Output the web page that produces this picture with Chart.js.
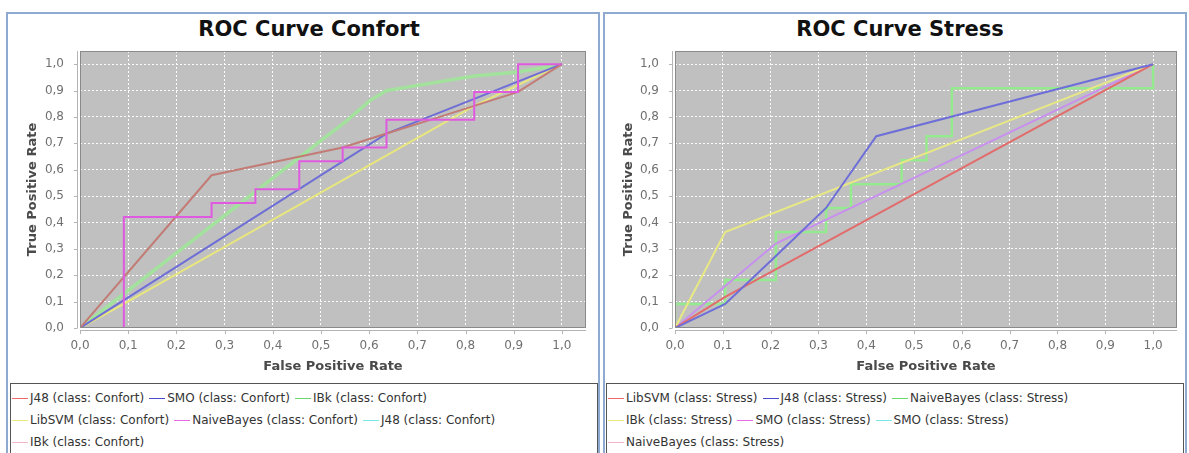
<!DOCTYPE html>
<html><head><meta charset="utf-8">
<script src="https://cdn.jsdelivr.net/npm/chart.js@4.4.1/dist/chart.umd.min.js"></script>
<style>
html,body{margin:0;padding:0;background:#fff;}
body{width:1189px;height:453px;position:relative;overflow:hidden;font-family:"DejaVu Sans",sans-serif;}
.panel{position:absolute;top:12px;height:445px;border:2px solid #8eaad0;box-sizing:border-box;background:#fff;}
#p1{left:6px;width:594px;}
#p2{left:603px;width:584px;}
.cv{position:absolute;top:15px;height:365px;}
.ttl{position:absolute;top:17px;width:400px;height:25px;line-height:25px;text-align:center;font-weight:bold;font-size:21px;color:#111;white-space:nowrap;}
.legend{position:absolute;top:383px;height:72px;border:1px solid #555;background:#fff;box-sizing:border-box;font-size:12px;color:#333;padding:3px 0 0 1px;}
.row{height:22px;display:flex;align-items:center;white-space:nowrap;}
.item{display:flex;align-items:center;margin-right:5px;}
.sw{width:16px;height:0;border-top:1px solid;margin-right:2px;}
</style></head>
<body>
<div class="panel" id="p1"></div>
<div class="panel" id="p2"></div>
<div class="ttl" id="t1" style="left:109px;"></div>
<div class="ttl" id="t2" style="left:700px;"></div>
<div class="cv" style="left:10px;width:588px;"><canvas id="c1" width="588" height="365"></canvas></div>
<div class="cv" style="left:606px;width:578px;"><canvas id="c2" width="578" height="365"></canvas></div>
<div class="legend" id="l1" style="left:10px;width:588px;"></div>
<div class="legend" id="l2" style="left:606px;width:578px;"></div>
<script>
// ---------- data ----------
const tickValues = [0, 0.1, 0.2, 0.3, 0.4, 0.5, 0.6, 0.7, 0.8, 0.9, 1.0];
const xTitle = 'False Positive Rate';
const yTitle = 'True Positive Rate';

// Confort
const confortTitle = 'ROC Curve Confort';
const confortJ48Fpr = [0, 0.273, 0.545, 0.636, 0.727, 0.818, 0.909, 1];
const confortJ48Tpr = [0, 0.579, 0.684, 0.737, 0.789, 0.842, 0.895, 1];
const confortSMOFpr = [0, 0.636, 1];
const confortSMOTpr = [0, 0.737, 1];
const confortIBkFpr = [0, 0.5, 0.55, 0.6, 0.636, 0.818, 0.909, 1];
const confortIBkTpr = [0, 0.71, 0.78, 0.86, 0.9, 0.955, 0.97, 1];
const confortLibSVMFpr = [0, 0.091, 0.818, 1];
const confortLibSVMTpr = [0, 0.091, 0.842, 1];
const confortNBFpr = [0, 0.091, 0.091, 0.273, 0.273, 0.364, 0.364, 0.455, 0.455, 0.545, 0.545, 0.636, 0.636, 0.818, 0.818, 0.909, 0.909, 1];
const confortNBTpr = [0, 0, 0.421, 0.421, 0.474, 0.474, 0.526, 0.526, 0.632, 0.632, 0.684, 0.684, 0.789, 0.789, 0.895, 0.895, 1, 1];

// Stress
const stressTitle = 'ROC Curve Stress';
const stressLibSVMFpr = [0, 0.105, 1];
const stressLibSVMTpr = [0, 0.118, 1];
const stressJ48Fpr = [0, 0.105, 0.211, 0.316, 0.421, 1];
const stressJ48Tpr = [0, 0.091, 0.273, 0.455, 0.727, 1];
const stressNBFpr = [0, 0, 0.105, 0.105, 0.211, 0.211, 0.316, 0.316, 0.368, 0.368, 0.474, 0.474, 0.526, 0.526, 0.579, 0.579, 1, 1];
const stressNBTpr = [0, 0.091, 0.091, 0.182, 0.182, 0.364, 0.364, 0.455, 0.455, 0.545, 0.545, 0.636, 0.636, 0.727, 0.727, 0.909, 0.909, 1];
const stressIBkFpr = [0, 0.105, 1];
const stressIBkTpr = [0, 0.364, 1];
const stressSMOFpr = [0, 0.211, 1];
const stressSMOTpr = [0, 0.32, 1];

// ---------- styles ----------
const legendColors = ['#ee6a6a', '#4a4acc', '#6ad86a', '#eaea7a', '#e66ae6', '#7ae6e6', '#f2b6c6'];

const confortSeries = [
  {label: 'J48 (class: Confort)', fpr: confortJ48Fpr, tpr: confortJ48Tpr, legend: legendColors[0], line: '#c67a74', width: 2, order: 1},
  {label: 'SMO (class: Confort)', fpr: confortSMOFpr, tpr: confortSMOTpr, legend: legendColors[1], line: '#6e6ed6', width: 2, order: 1},
  {label: 'IBk (class: Confort)', fpr: confortIBkFpr, tpr: confortIBkTpr, legend: legendColors[2], line: '#a2e29c', width: 3.5, order: 1},
  {label: 'LibSVM (class: Confort)', fpr: confortLibSVMFpr, tpr: confortLibSVMTpr, legend: legendColors[3], line: '#e8e67c', width: 2, order: 1},
  {label: 'NaiveBayes (class: Confort)', fpr: confortNBFpr, tpr: confortNBTpr, legend: legendColors[4], line: '#e05ae0', width: 2, order: 0},
  {label: 'J48 (class: Confort)', fpr: confortJ48Fpr, tpr: confortJ48Tpr, legend: legendColors[5], line: legendColors[5], width: 1.5, order: 5},
  {label: 'IBk (class: Confort)', fpr: confortIBkFpr, tpr: confortIBkTpr, legend: legendColors[6], line: legendColors[6], width: 2, order: 5}
];
const stressSeries = [
  {label: 'LibSVM (class: Stress)', fpr: stressLibSVMFpr, tpr: stressLibSVMTpr, legend: legendColors[0], line: '#e26c6c', width: 2, order: 1},
  {label: 'J48 (class: Stress)', fpr: stressJ48Fpr, tpr: stressJ48Tpr, legend: legendColors[1], line: '#6e6ed8', width: 2, order: 0},
  {label: 'NaiveBayes (class: Stress)', fpr: stressNBFpr, tpr: stressNBTpr, legend: legendColors[2], line: '#94ea8e', width: 2.5, order: 2},
  {label: 'IBk (class: Stress)', fpr: stressIBkFpr, tpr: stressIBkTpr, legend: legendColors[3], line: '#e8e884', width: 2, order: 1},
  {label: 'SMO (class: Stress)', fpr: stressSMOFpr, tpr: stressSMOTpr, legend: legendColors[4], line: '#cc8eec', width: 2, order: 1},
  {label: 'SMO (class: Stress)', fpr: stressSMOFpr, tpr: stressSMOTpr, legend: legendColors[5], line: legendColors[5], width: 1.5, order: 5},
  {label: 'NaiveBayes (class: Stress)', fpr: stressNBFpr, tpr: stressNBTpr, legend: legendColors[6], line: legendColors[6], width: 2, order: 5}
];

const fmt = v => v.toFixed(1).replace('.', ',');

const plotFrame = {
  id: 'plotFrame',
  beforeDraw(chart) {
    const {ctx, chartArea: a} = chart;
    ctx.save();
    ctx.fillStyle = '#c0c0c0';
    ctx.fillRect(a.left, a.top, a.width, a.height);
    ctx.restore();
  },
  afterDraw(chart) {
    const {ctx, chartArea: a, scales} = chart;
    ctx.save();
    ctx.strokeStyle = '#8a8a8a';
    ctx.lineWidth = 1;
    ctx.strokeRect(a.left + 0.5, a.top + 0.5, a.width - 1, a.height - 1);
    ctx.strokeStyle = '#b4b4b4';
    ctx.beginPath();
    ctx.moveTo(a.left - 2.5, a.top); ctx.lineTo(a.left - 2.5, a.bottom);
    ctx.moveTo(a.left, a.bottom + 2.5); ctx.lineTo(a.right, a.bottom + 2.5);
    scales.y.ticks.forEach(t => {
      const p = Math.round(scales.y.getPixelForValue(t.value)) + 0.5;
      ctx.moveTo(a.left - 2.5, p); ctx.lineTo(a.left - 6, p);
    });
    scales.x.ticks.forEach(t => {
      const p = Math.round(scales.x.getPixelForValue(t.value)) + 0.5;
      ctx.moveTo(p, a.bottom + 2.5); ctx.lineTo(p, a.bottom + 6);
    });
    ctx.stroke();
    ctx.restore();
  }
};

function makeChart(id, series, padRight, yWidth) {
  return new Chart(document.getElementById(id), {
    type: 'line',
    data: {
      datasets: series.map(s => ({
        label: s.label,
        data: s.fpr.map((x, i) => ({x: x, y: s.tpr[i]})),
        borderColor: s.line,
        backgroundColor: s.line,
        borderWidth: s.width,
        pointRadius: 0,
        tension: 0,
        fill: false,
        order: s.order
      }))
    },
    options: {
      responsive: false,
      animation: false,
      devicePixelRatio: 1,
      layout: {padding: {left: 0, right: padRight, top: 36, bottom: 0}},
      plugins: {
        legend: {display: false},
        tooltip: {enabled: false},
        title: {display: false}
      },
      scales: {
        x: {
          type: 'linear', min: 0, max: 1.05,
          afterBuildTicks: ax => { ax.ticks = tickValues.map(v => ({value: v})); },
          afterFit: ax => { ax.height = 52; },
          ticks: {color: '#707070', font: {family: 'DejaVu Sans', size: 12}, padding: 11, maxRotation: 0, autoSkip: false, callback: v => fmt(v)},
          grid: {color: 'rgba(255,255,255,0.95)', drawTicks: false, lineWidth: 1},
          border: {display: false, dash: [2, 2]},
          title: {display: true, text: xTitle, color: '#4a4a4a', font: {family: 'DejaVu Sans', size: 13, weight: 'bold', lineHeight: 1.2}, padding: {top: 0, bottom: 6}}
        },
        y: {
          type: 'linear', min: 0, max: 1.05,
          afterBuildTicks: ax => { ax.ticks = tickValues.map(v => ({value: v})); },
          afterFit: ax => { ax.width = yWidth; },
          ticks: {color: '#707070', font: {family: 'DejaVu Sans', size: 12}, padding: 16, autoSkip: false, callback: v => fmt(v)},
          grid: {color: 'rgba(255,255,255,0.95)', drawTicks: false, lineWidth: 1},
          border: {display: false, dash: [2, 2]},
          title: {display: true, text: yTitle, color: '#4a4a4a', font: {family: 'DejaVu Sans', size: 13, weight: 'bold', lineHeight: 1.2}, padding: {top: 15, bottom: 0}}
        }
      }
    },
    plugins: [plotFrame]
  });
}

function makeLegend(id, series) {
  const box = document.getElementById(id);
  for (let r = 0; r < series.length; r += 3) {
    const row = document.createElement('div');
    row.className = 'row';
    series.slice(r, r + 3).forEach(s => {
      const it = document.createElement('div');
      it.className = 'item';
      const sw = document.createElement('span');
      sw.className = 'sw';
      sw.style.borderTopColor = s.legend;
      const tx = document.createElement('span');
      tx.textContent = s.label;
      it.appendChild(sw); it.appendChild(tx);
      row.appendChild(it);
    });
    box.appendChild(row);
  }
}

document.getElementById('t1').textContent = confortTitle;
document.getElementById('t2').textContent = stressTitle;
makeChart('c1', confortSeries, 12, 70);
makeChart('c2', stressSeries, 7, 69);
makeLegend('l1', confortSeries);
makeLegend('l2', stressSeries);
</script>
</body></html>
